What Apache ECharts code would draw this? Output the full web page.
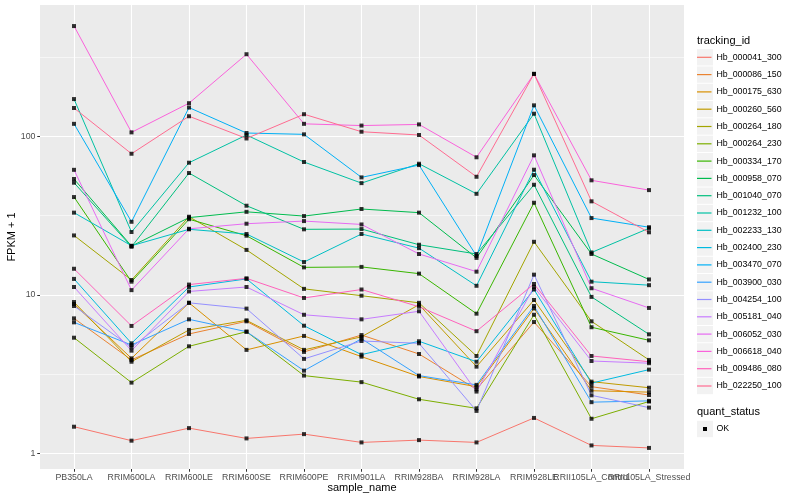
<!DOCTYPE html>
<html><head><meta charset="utf-8">
<script src="https://cdn.jsdelivr.net/npm/echarts@6/dist/echarts.min.js"></script>
<style>html,body{margin:0;padding:0;background:#fff}#c{width:800px;height:500px}</style>
</head><body><div id="c"></div>
<script>
// ---------- data ----------
const categories = ['PB350LA','RRIM600LA','RRIM600LE','RRIM600SE','RRIM600PE','RRIM901LA','RRIM928BA','RRIM928LA','RRIM928LE','RRII105LA_Control','RRII105LA_Stressed'];
const trackingIds = ['Hb_000041_300','Hb_000086_150','Hb_000175_630','Hb_000260_560','Hb_000264_180','Hb_000264_230','Hb_000334_170','Hb_000958_070','Hb_001040_070','Hb_001232_100','Hb_002233_130','Hb_002400_230','Hb_003470_070','Hb_003900_030','Hb_004254_100','Hb_005181_040','Hb_006052_030','Hb_006618_040','Hb_009486_080','Hb_022250_100'];
const hb_000041_300 = [1.47, 1.20, 1.44, 1.24, 1.32, 1.17, 1.21, 1.17, 1.67, 1.12, 1.08];
const hb_000086_150 = [7.1, 3.88, 5.66, 6.8, 4.36, 5.57, 4.23, 2.53, 6.73, 2.63, 2.33];
const hb_000175_630 = [8.75, 3.97, 8.9, 4.49, 5.50, 4.07, 3.05, 2.63, 8.2, 2.48, 2.43];
const hb_000260_560 = [9.0, 3.78, 6.0, 6.9, 4.49, 5.43, 8.66, 3.52, 9.27, 2.83, 2.59];
const hb_000264_180 = [23.7, 12.4, 31.1, 19.2, 10.9, 9.87, 8.9, 4.11, 21.6, 6.8, 3.88];
const hb_000264_230 = [5.36, 2.79, 4.73, 5.85, 3.09, 2.81, 2.19, 1.92, 7.48, 1.65, 2.12];
const hb_000334_170 = [41.4, 12.1, 30.0, 23.6, 14.9, 15.0, 13.6, 7.6, 38.1, 6.24, 5.16];
const hb_000958_070 = [53.8, 20.3, 30.7, 33.4, 31.4, 34.8, 33.0, 17.1, 57.0, 18.1, 12.5];
const hb_001040_070 = [51.0, 20.1, 58.7, 36.5, 25.9, 26.0, 20.7, 18.1, 49.5, 9.7, 5.63];
const hb_001232_100 = [172, 24.9, 68.2, 102, 68.9, 50.7, 67.2, 43.4, 139, 18.5, 26.3];
const hb_002233_130 = [33.0, 20.4, 25.9, 24.2, 16.1, 24.2, 19.7, 11.4, 61.6, 12.1, 11.5];
const hb_002400_230 = [12.6, 4.94, 11.2, 12.6, 6.38, 4.19, 5.09, 3.78, 10.8, 2.77, 3.37];
const hb_003470_070 = [120, 28.9, 152, 105, 103, 55.1, 65.9, 17.6, 157, 30.5, 26.7];
const hb_003900_030 = [6.7, 4.82, 7.0, 5.85, 3.32, 5.28, 3.09, 2.70, 8.5, 2.10, 2.14];
const hb_004254_100 = [8.5, 4.66, 8.9, 8.18, 3.94, 5.11, 4.94, 1.85, 13.4, 2.32, 1.94];
const hb_005181_040 = [11.2, 4.44, 10.5, 11.2, 7.48, 7.0, 7.87, 2.45, 11.2, 3.82, 3.70];
const hb_006052_030 = [61.5, 10.7, 26.1, 28.1, 29.2, 27.8, 18.1, 14.0, 75.9, 11.0, 8.26];
const hb_006618_040 = [497, 106, 162, 330, 120, 117, 119, 73.8, 248, 52.8, 45.8];
const hb_009486_080 = [14.6, 6.36, 11.6, 12.7, 9.55, 10.8, 8.41, 5.89, 11.7, 4.11, 3.78];
const hb_022250_100 = [151, 77.7, 134, 97, 138, 107, 102, 55.6, 248, 38.9, 24.8];
const seriesValues = [hb_000041_300, hb_000086_150, hb_000175_630, hb_000260_560, hb_000264_180, hb_000264_230, hb_000334_170, hb_000958_070, hb_001040_070, hb_001232_100, hb_002233_130, hb_002400_230, hb_003470_070, hb_003900_030, hb_004254_100, hb_005181_040, hb_006052_030, hb_006618_040, hb_009486_080, hb_022250_100];
const yMajorTicks = [1, 10, 100];
const yMinorTicks = [Math.sqrt(10), Math.sqrt(1000), Math.sqrt(100000)];
const quantStatus = ['OK'];

// ---------- style ----------
const palette = ['#F8766D','#EA8331','#D89000','#C09B00','#A3A500','#7CAE00','#39B600','#00BB4E','#00BF7D','#00C1A3','#00BFC4','#00BAE0','#00B0F6','#35A2FF','#9590FF','#C77CFF','#E76BF3','#FA62DB','#FF62BC','#FF6C91'];
const FONT = '"Liberation Sans", Arial, sans-serif';
const PANEL = {left: 40, right: 684, top: 5, bottom: 469};
const X_FIRST = 74, X_LAST = 649;
const Y_MIN = 0.795, Y_MAX = 675;
const LEG = {x: 697, firstCenter: 57.3, step: 17.3, keyW: 16, keyH: 16.3};

const chart = echarts.init(document.getElementById('c'), null, {renderer: 'canvas'});

const lineSeries = trackingIds.map((id, i) => ({
  name: id, type: 'line', xAxisIndex: 1, yAxisIndex: 2,
  data: seriesValues[i], showSymbol: false, symbol: 'none',
  lineStyle: {width: 1, color: palette[i]}, itemStyle: {color: palette[i]},
  z: 2, silent: true
}));
const pointData = [];
seriesValues.forEach(vals => vals.forEach((v, j) => pointData.push([j, v])));
const pointSeries = {
  name: quantStatus[0], type: 'scatter', xAxisIndex: 1, yAxisIndex: 2,
  data: pointData, symbol: 'rect', symbolSize: 4,
  itemStyle: {color: '#000'}, z: 5, silent: true
};

const graphics = [];
trackingIds.forEach((id, i) => {
  const cy = LEG.firstCenter + i * LEG.step;
  graphics.push({type: 'rect', z: -1, shape: {x: LEG.x, y: cy - LEG.keyH / 2, width: LEG.keyW, height: LEG.keyH}, style: {fill: '#F2F2F2'}});
});
graphics.push({type: 'text', x: LEG.x, y: 40.7, style: {text: 'tracking_id', font: '11px ' + FONT, fill: '#000', textAlign: 'left', textVerticalAlign: 'middle'}});
graphics.push({type: 'text', x: LEG.x, y: 412.3, style: {text: 'quant_status', font: '11px ' + FONT, fill: '#000', textAlign: 'left', textVerticalAlign: 'middle'}});
graphics.push({type: 'rect', shape: {x: LEG.x, y: 429 - LEG.keyH / 2, width: LEG.keyW, height: LEG.keyH}, style: {fill: '#F2F2F2'}});
graphics.push({type: 'rect', shape: {x: LEG.x + LEG.keyW / 2 - 2, y: 429 - 2, width: 4, height: 4}, style: {fill: '#000'}});
graphics.push({type: 'text', x: 716.5, y: 429, style: {text: quantStatus[0], font: '8.8px ' + FONT, fill: '#000', textAlign: 'left', textVerticalAlign: 'middle'}});
graphics.push({type: 'text', x: 12, y: (PANEL.top + PANEL.bottom) / 2, rotation: Math.PI / 2, style: {text: 'FPKM + 1', font: '11px ' + FONT, fill: '#000', textAlign: 'center', textVerticalAlign: 'middle'}});
graphics.push({type: 'text', x: (PANEL.left + PANEL.right) / 2, y: 488, style: {text: 'sample_name', font: '11px ' + FONT, fill: '#000', textAlign: 'center', textVerticalAlign: 'middle'}});

const option = {
  animation: false,
  backgroundColor: '#fff',
  grid: [
    {left: PANEL.left, top: PANEL.top, width: PANEL.right - PANEL.left, height: PANEL.bottom - PANEL.top,
     show: true, backgroundColor: '#EBEBEB', borderWidth: 0, containLabel: false},
    {left: X_FIRST, top: PANEL.top, width: X_LAST - X_FIRST, height: PANEL.bottom - PANEL.top, containLabel: false}
  ],
  xAxis: [
    {gridIndex: 0, type: 'value', min: 0, max: 1, show: false},
    {gridIndex: 1, type: 'category', data: categories, boundaryGap: false,
     axisLine: {show: false},
     axisTick: {show: true, length: 2.75, lineStyle: {color: '#333', width: 1}},
     axisLabel: {interval: 0, hideOverlap: false, margin: 4.5, color: '#4D4D4D', fontSize: 8.8, fontFamily: FONT},
     splitLine: {show: true, lineStyle: {color: '#fff', width: 1.1}}}
  ],
  yAxis: [
    {gridIndex: 0, type: 'log', logBase: 10, min: Y_MIN, max: Y_MAX,
     axisLine: {show: false},
     axisTick: {show: true, length: 2.75, customValues: yMajorTicks, lineStyle: {color: '#333', width: 1}},
     axisLabel: {show: true, customValues: yMajorTicks, margin: 4.5, color: '#4D4D4D', fontSize: 8.8, fontFamily: FONT,
                 formatter: v => String(Math.round(v))},
     splitLine: {show: true, lineStyle: {color: '#fff', width: 1.1}}},
    {gridIndex: 0, type: 'log', logBase: 10, min: Y_MIN, max: Y_MAX,
     axisLine: {show: false},
     axisTick: {show: false, customValues: yMinorTicks},
     axisLabel: {show: false, customValues: yMinorTicks},
     splitLine: {show: true, lineStyle: {color: '#fff', width: 0.55}}},
    {gridIndex: 1, type: 'log', logBase: 10, min: Y_MIN, max: Y_MAX, show: false}
  ],
  legend: {
    data: trackingIds, orient: 'vertical', left: LEG.x, top: LEG.firstCenter - LEG.step / 2,
    padding: 0, itemGap: 0, itemWidth: 14.5, itemHeight: 1.2, icon: 'rect', selectedMode: false,
    textStyle: {fontSize: 8.8, lineHeight: LEG.step, color: '#000', fontFamily: FONT}
  },
  graphic: graphics,
  series: [...lineSeries, pointSeries]
};
chart.setOption(option);
</script></body></html>
